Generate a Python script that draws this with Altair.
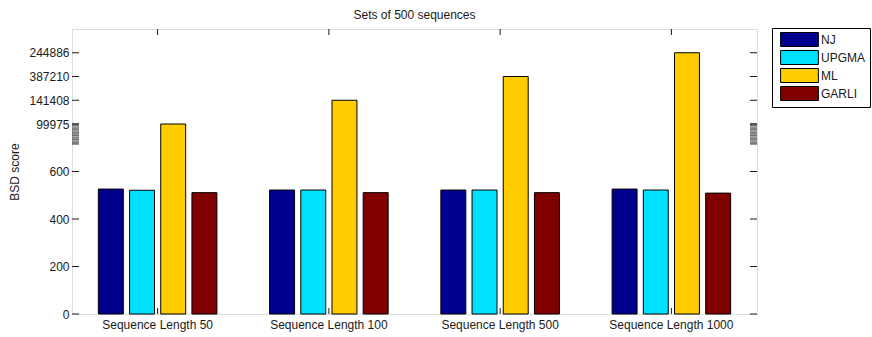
import altair as alt
import pandas as pd

# Groups on the x axis and the four tree-building methods
groups = ["Sequence Length 50", "Sequence Length 100", "Sequence Length 500", "Sequence Length 1000"]
methods = ["NJ", "UPGMA", "ML", "GARLI"]
colors = ["#00008F", "#00E1FF", "#FFCC00", "#800000"]

# BSD scores per method (one value per group)
nj = [526, 522, 522, 526]
upgma = [521, 522, 522, 522]
garli = [511, 511, 511, 509]

# ML scores are far off the scale: they are drawn on the broken upper part of
# the axis, one slot per group, and the slot ticks carry the real scores.
ml_scores = [99975, 141408, 387210, 244886]
ml_axis_pos = [800, 900, 1000, 1100]

lower_ticks = [0, 200, 400, 600]
# short tick cluster marking the axis break
break_ticks = [716, 724, 733, 741, 750, 758, 766, 775, 783, 792, 800]

W, H = 685, 285
FONT = "Liberation Sans"
INK = "#1a1a1a"

rows = []
for i, g in enumerate(groups):
    rows.append({"group": g, "method": "NJ", "pos": nj[i], "score": nj[i]})
    rows.append({"group": g, "method": "UPGMA", "pos": upgma[i], "score": upgma[i]})
    rows.append({"group": g, "method": "ML", "pos": ml_axis_pos[i], "score": ml_scores[i]})
    rows.append({"group": g, "method": "GARLI", "pos": garli[i], "score": garli[i]})
bars_df = pd.DataFrame(rows)

label_expr = " : ".join(
    f"datum.value == {p} ? '{s}'" for p, s in zip(ml_axis_pos, ml_scores)
) + " : datum.label"

y_scale = alt.Scale(domain=[0, 1200], nice=False, zero=True)
x_scale = alt.Scale(paddingInner=0, paddingOuter=0)

# one axis definition per channel, shared by every layer so they merge cleanly
x_axis = alt.Axis(title=None, labelAngle=0, ticks=False, domain=False, grid=False,
                  labelPadding=5, labelFontSize=12, labelFont=FONT, labelColor=INK)
y_axis = alt.Axis(values=lower_ticks + ml_axis_pos, labelExpr=label_expr,
                  title="BSD score", ticks=False, domain=False, grid=False,
                  labelPadding=3, labelFontSize=12, labelFont=FONT,
                  labelColor=INK, titleFont=FONT, titleFontSize=12,
                  titleFontWeight="normal", titleColor=INK,
                  titleX=-58, titleY=H / 2, titleAngle=-90,
                  titleAlign="center", titleBaseline="middle")

# wide, flat swatch: 14 px tall (sqrt(196)), about 38 px wide
swatch = "M-2.7,-1H2.7V1H-2.7Z"

bars = alt.Chart(bars_df).mark_bar(stroke="#000", strokeWidth=1).encode(
    x=alt.X("group:N", sort=groups, scale=x_scale, axis=x_axis),
    xOffset=alt.XOffset("method:N", sort=methods,
                        scale=alt.Scale(paddingInner=0.2, paddingOuter=0.845)),
    y=alt.Y("pos:Q", scale=y_scale, axis=y_axis),
    color=alt.Color("method:N", sort=methods,
                    scale=alt.Scale(domain=methods, range=colors),
                    legend=alt.Legend(title=None, orient="none", legendX=700, legendY=-1,
                                      strokeColor="#000", fillColor="#fff", padding=4,
                                      symbolType=swatch, symbolSize=196,
                                      symbolStrokeColor="#000", symbolStrokeWidth=1,
                                      symbolOffset=16, labelOffset=14, rowPadding=-1,
                                      labelFontSize=12, labelFont=FONT, labelColor=INK)),
)

ytick_df = pd.DataFrame({"v": lower_ticks + ml_axis_pos})
brk_df = pd.DataFrame({"v": break_ticks})
grp_df = pd.DataFrame({"group": groups})


def yticks(df, x0, x1):
    return alt.Chart(df).mark_rule(color=INK, strokeWidth=1).encode(
        y=alt.Y("v:Q", scale=y_scale, axis=y_axis),
        x=alt.value(x0), x2=alt.value(x1),
    )


def xticks(y0, y1):
    return alt.Chart(grp_df).mark_rule(color=INK, strokeWidth=1).encode(
        x=alt.X("group:N", sort=groups, scale=x_scale, axis=x_axis, bandPosition=0.5),
        y=alt.value(y0), y2=alt.value(y1),
    )


chart = alt.layer(
    bars,
    yticks(ytick_df, 0, 7), yticks(ytick_df, W - 7, W),
    yticks(brk_df, 0, 7), yticks(brk_df, W - 7, W),
    xticks(H - 6, H), xticks(0, 6),
).properties(
    width=W, height=H,
    title=alt.TitleParams("Sets of 500 sequences", font=FONT, fontSize=12,
                          fontWeight="normal", color=INK, anchor="middle", offset=6),
    autosize=alt.AutoSizeParams(type="none"),
    padding={"left": 72, "top": 29, "right": 115, "bottom": 23},
).configure_view(stroke="#222", strokeWidth=1).configure(background="#fff")

chart.save("out.html", embed_options={"renderer": "svg", "actions": False})
